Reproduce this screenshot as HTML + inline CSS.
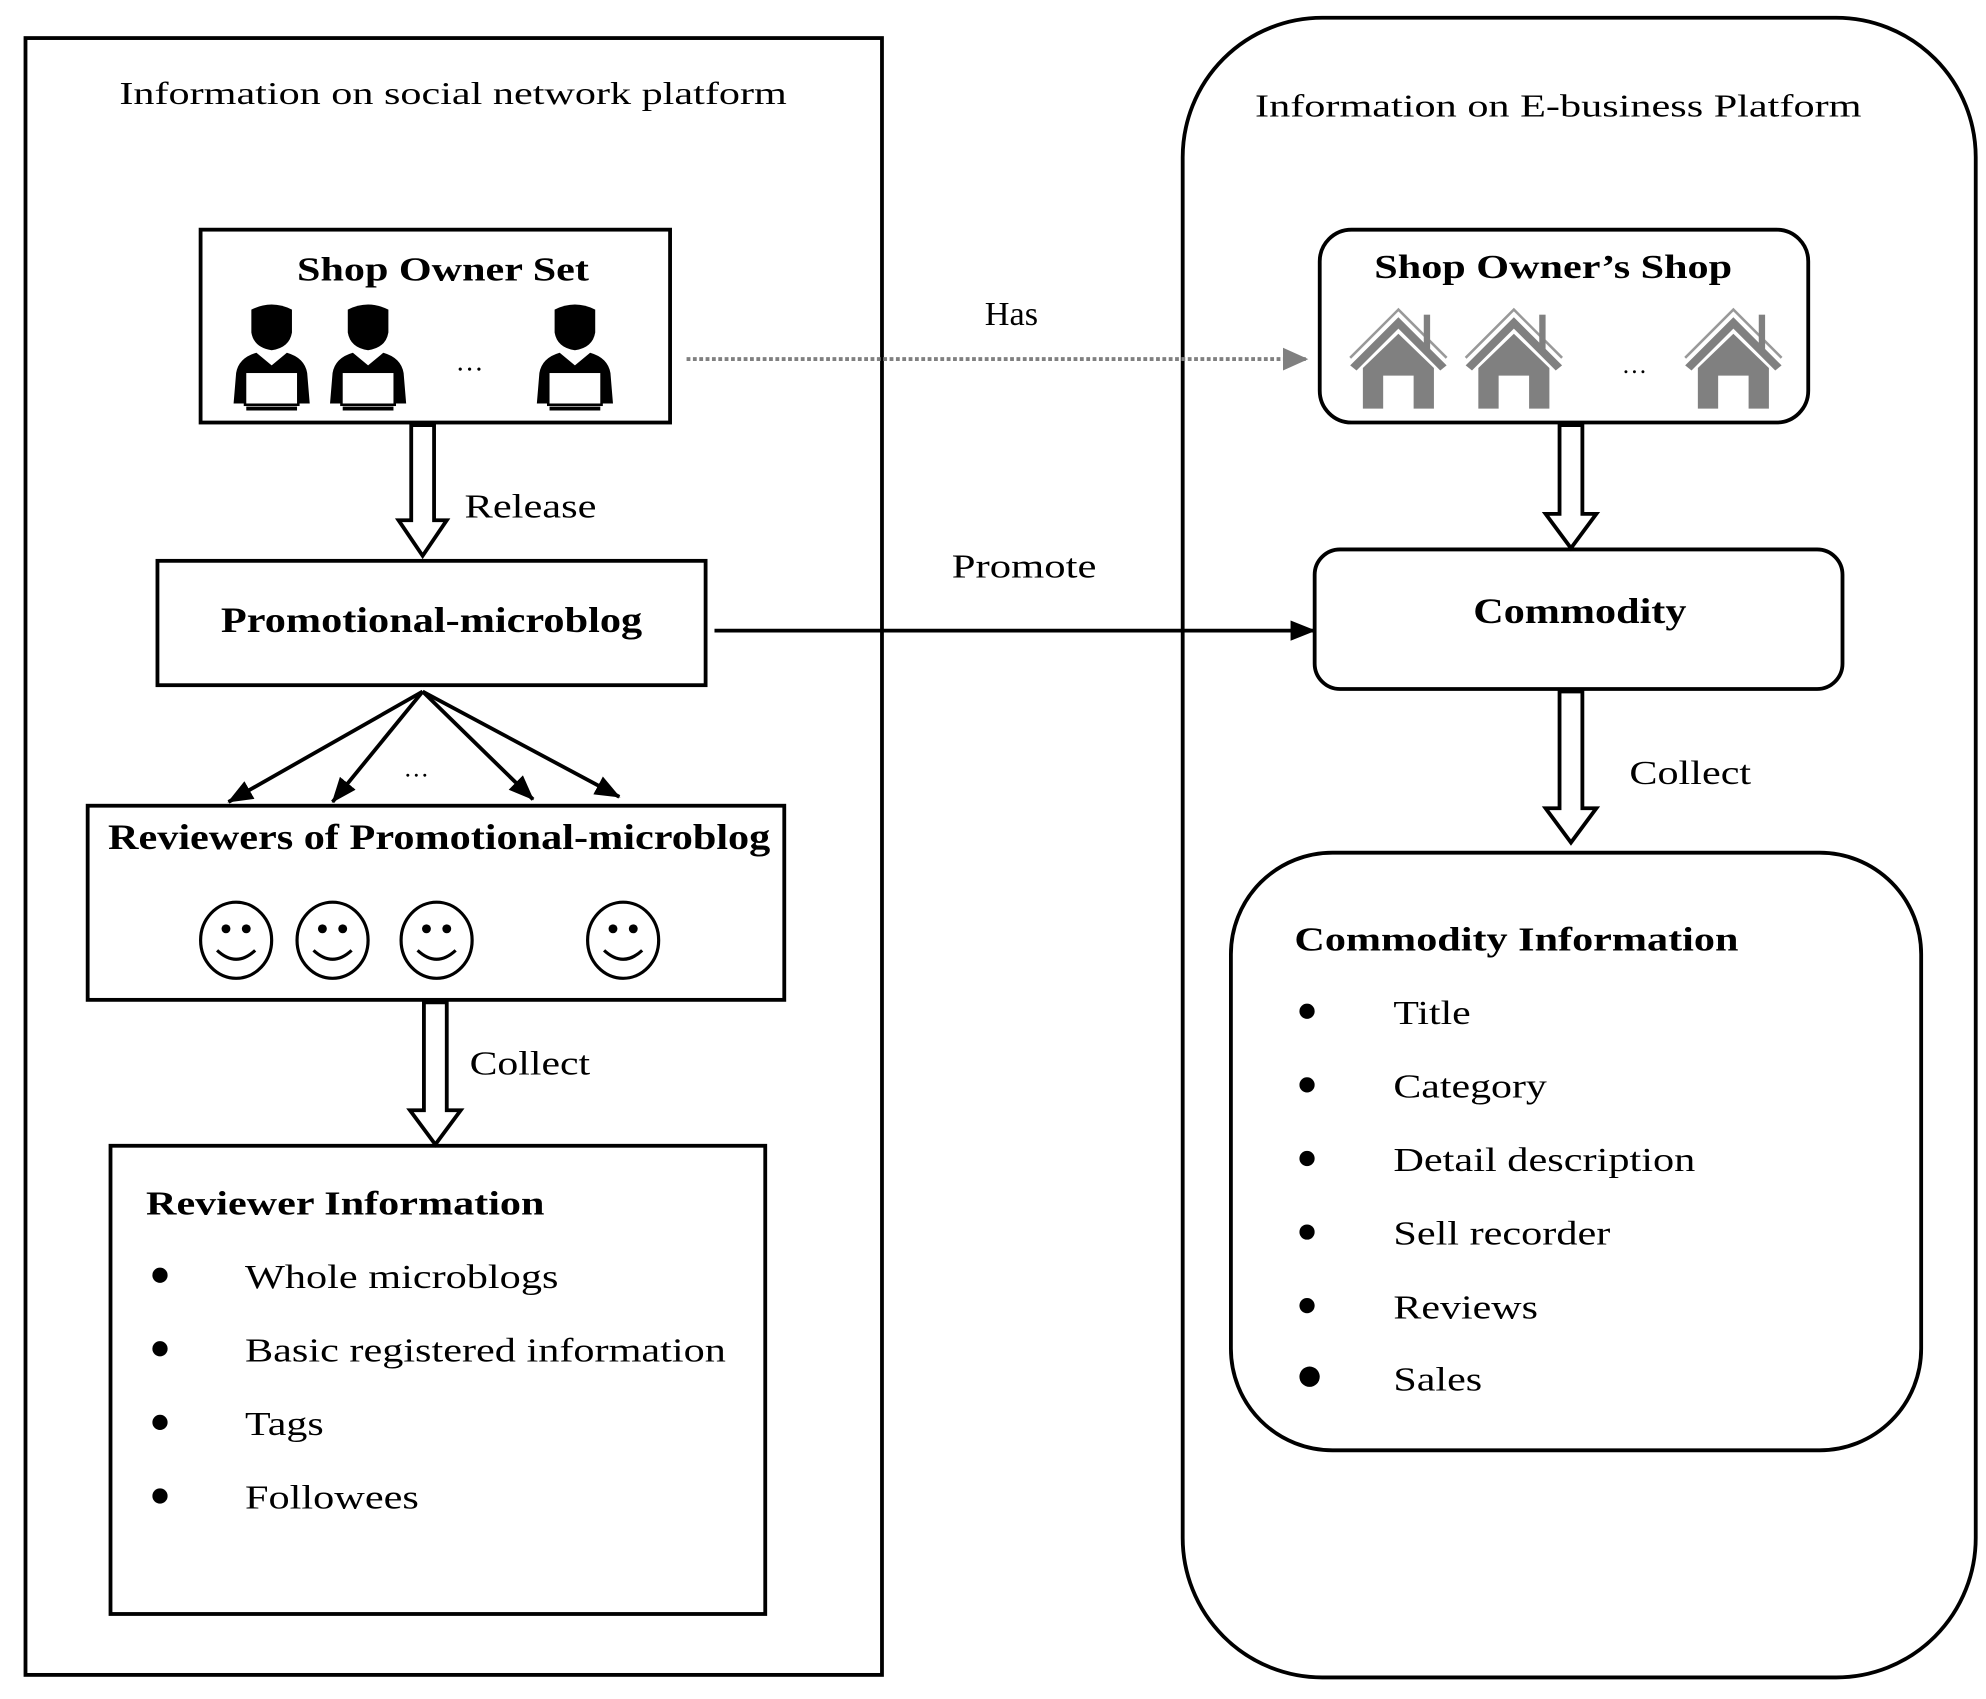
<!DOCTYPE html>
<html><head><meta charset="utf-8"><style>html,body{margin:0;padding:0;background:#fff}svg{display:block}</style></head>
<body>
<svg width="1986" height="1699" viewBox="0 0 1565 1339" xmlns="http://www.w3.org/2000/svg" font-family="'Liberation Serif', serif">
<defs>
<marker id="ah" markerWidth="10" markerHeight="10" refX="9" refY="5" orient="auto" markerUnits="userSpaceOnUse"><path d="M0,0 L10,5 L0,10 Z" fill="#000"/></marker>
<marker id="ahb" viewBox="0 0 20 16" markerWidth="20" markerHeight="16" refX="19" refY="8" orient="auto" markerUnits="userSpaceOnUse"><path d="M0,0 L20,8 L0,16 Z" fill="#000"/></marker>
<marker id="ahg" viewBox="0 0 20 18" markerWidth="20" markerHeight="18" refX="19" refY="9" orient="auto" markerUnits="userSpaceOnUse"><path d="M0,0 L20,9 L0,18 Z" fill="#808080"/></marker>
<g id="person">
 <path d="M-16,244 Q0,236 16,244 L16,262 Q14,274 0,276 Q-14,274 -16,262 Z" fill="#000"/>
 <path d="M-30,318 L-28,294 Q-26,282 -12,278 L0,288 L12,278 Q26,282 28,294 L30,318 Z" fill="#000"/>
 <rect x="-21" y="293" width="42" height="26" fill="#fff" stroke="#000" stroke-width="2"/>
 <line x1="-20" y1="322" x2="20" y2="322" stroke="#000" stroke-width="3"/>
</g>
<g id="house" fill="#808080" stroke="none">
 <path d="M-38,288 L0,250 L38,288 L33,292 L0,259 L-33,292 Z"/>
 <path d="M-38,282 L0,244 L38,282" fill="none" stroke="#999" stroke-width="2"/>
 <rect x="20" y="248" width="5" height="28"/>
 <path d="M-28,290 L0,263 L28,290 L28,322 L12,322 L12,296 L-12,296 L-12,322 L-28,322 Z"/>
</g>
<g id="smile" fill="none" stroke="#000" stroke-width="2.5">
 <ellipse cx="0" cy="0" rx="28" ry="30"/>
 <circle cx="-8" cy="-9" r="3.5" fill="#000" stroke="none"/>
 <circle cx="8" cy="-9" r="3.5" fill="#000" stroke="none"/>
 <path d="M-15,8 Q0,22 15,8"/>
</g>
</defs>

<!-- Left platform -->
<rect x="20" y="30" width="675" height="1290" fill="none" stroke="#000" stroke-width="3"/>
<text x="357" y="82" font-size="25" text-anchor="middle" textLength="526" lengthAdjust="spacingAndGlyphs">Information on social network platform</text>

<rect x="158" y="181" width="370" height="152" fill="none" stroke="#000" stroke-width="3"/>
<text x="349" y="221" font-size="27" font-weight="bold" text-anchor="middle" textLength="230" lengthAdjust="spacingAndGlyphs">Shop Owner Set</text>
<use href="#person" x="214"/>
<use href="#person" x="290"/>
<use href="#person" x="453"/>
<text x="370" y="292" font-size="22" text-anchor="middle">…</text>

<polygon points="324,335 342,335 342,410 352,410 333,438 314,410 324,410" fill="#fff" stroke="#000" stroke-width="3"/>
<text x="366" y="408" font-size="27" textLength="104" lengthAdjust="spacingAndGlyphs">Release</text>

<rect x="124" y="442" width="432" height="98" fill="none" stroke="#000" stroke-width="3"/>
<text x="340" y="498" font-size="28" font-weight="bold" text-anchor="middle" textLength="332" lengthAdjust="spacingAndGlyphs">Promotional-microblog</text>

<g stroke="#000" stroke-width="3">
<line x1="333" y1="545" x2="180" y2="632" marker-end="url(#ahb)"/>
<line x1="333" y1="545" x2="262" y2="632" marker-end="url(#ahb)"/>
<line x1="333" y1="545" x2="420" y2="630" marker-end="url(#ahb)"/>
<line x1="333" y1="545" x2="488" y2="628" marker-end="url(#ahb)"/>
</g>
<text x="328" y="612" font-size="20" text-anchor="middle">…</text>

<rect x="69" y="635" width="549" height="153" fill="none" stroke="#000" stroke-width="3"/>
<text x="346" y="669" font-size="28" font-weight="bold" text-anchor="middle" textLength="522" lengthAdjust="spacingAndGlyphs">Reviewers of Promotional-microblog</text>
<use href="#smile" x="186" y="741"/>
<use href="#smile" x="262" y="741"/>
<use href="#smile" x="344" y="741"/>
<use href="#smile" x="491" y="741"/>

<polygon points="334,790 352,790 352,875 363,875 343,902 323,875 334,875" fill="#fff" stroke="#000" stroke-width="3"/>
<text x="370" y="847" font-size="27" textLength="95" lengthAdjust="spacingAndGlyphs">Collect</text>

<rect x="87" y="903" width="516" height="369" fill="none" stroke="#000" stroke-width="3"/>
<text x="115" y="957" font-size="27" font-weight="bold" textLength="314" lengthAdjust="spacingAndGlyphs">Reviewer Information</text>
<g font-size="27">
<circle cx="126" cy="1005" r="6"/><text x="193" y="1015" textLength="247" lengthAdjust="spacingAndGlyphs">Whole microblogs</text>
<circle cx="126" cy="1063" r="6"/><text x="193" y="1073" textLength="379" lengthAdjust="spacingAndGlyphs">Basic registered information</text>
<circle cx="126" cy="1121" r="6"/><text x="193" y="1131" textLength="62" lengthAdjust="spacingAndGlyphs">Tags</text>
<circle cx="126" cy="1179" r="6"/><text x="193" y="1189" textLength="137" lengthAdjust="spacingAndGlyphs">Followees</text>
</g>

<!-- Right platform -->
<rect x="932" y="14" width="625" height="1308" rx="110" ry="110" fill="none" stroke="#000" stroke-width="3"/>
<text x="1228" y="92" font-size="25" text-anchor="middle" textLength="478" lengthAdjust="spacingAndGlyphs">Information on E-business Platform</text>

<rect x="1040" y="181" width="385" height="152" rx="25" ry="25" fill="none" stroke="#000" stroke-width="3"/>
<text x="1224" y="219" font-size="27" font-weight="bold" text-anchor="middle" textLength="282" lengthAdjust="spacingAndGlyphs">Shop Owner’s Shop</text>
<use href="#house" x="1102"/>
<use href="#house" x="1193"/>
<use href="#house" x="1366"/>
<text x="1288" y="294" font-size="20" text-anchor="middle">…</text>

<line x1="541" y1="283" x2="1030" y2="283" stroke="#808080" stroke-width="3" stroke-dasharray="3,2" marker-end="url(#ahg)"/>
<text x="797" y="256" font-size="27" text-anchor="middle">Has</text>

<polygon points="1229,335 1247,335 1247,405 1258,405 1238,432 1218,405 1229,405" fill="#fff" stroke="#000" stroke-width="3"/>

<rect x="1036" y="433" width="416" height="110" rx="20" ry="20" fill="none" stroke="#000" stroke-width="3"/>
<text x="1245" y="491" font-size="28" font-weight="bold" text-anchor="middle" textLength="168" lengthAdjust="spacingAndGlyphs">Commodity</text>

<line x1="563" y1="497" x2="1036" y2="497" stroke="#000" stroke-width="3" marker-end="url(#ahb)"/>
<text x="807" y="455" font-size="27" text-anchor="middle" textLength="114" lengthAdjust="spacingAndGlyphs">Promote</text>

<polygon points="1229,545 1247,545 1247,637 1258,637 1238,664 1218,637 1229,637" fill="#fff" stroke="#000" stroke-width="3"/>
<text x="1284" y="618" font-size="27" textLength="96" lengthAdjust="spacingAndGlyphs">Collect</text>

<rect x="970" y="672" width="544" height="471" rx="80" ry="80" fill="none" stroke="#000" stroke-width="3"/>
<text x="1020" y="749" font-size="27" font-weight="bold" textLength="350" lengthAdjust="spacingAndGlyphs">Commodity Information</text>
<g font-size="27">
<circle cx="1030" cy="797" r="6"/><text x="1098" y="807" textLength="61" lengthAdjust="spacingAndGlyphs">Title</text>
<circle cx="1030" cy="855" r="6"/><text x="1098" y="865" textLength="121" lengthAdjust="spacingAndGlyphs">Category</text>
<circle cx="1030" cy="913" r="6"/><text x="1098" y="923" textLength="238" lengthAdjust="spacingAndGlyphs">Detail description</text>
<circle cx="1030" cy="971" r="6"/><text x="1098" y="981" textLength="171" lengthAdjust="spacingAndGlyphs">Sell recorder</text>
<circle cx="1030" cy="1029" r="6"/><text x="1098" y="1039" textLength="114" lengthAdjust="spacingAndGlyphs">Reviews</text>
<circle cx="1032" cy="1085" r="8"/><text x="1098" y="1096" textLength="70" lengthAdjust="spacingAndGlyphs">Sales</text>
</g>
</svg>
</body></html>
